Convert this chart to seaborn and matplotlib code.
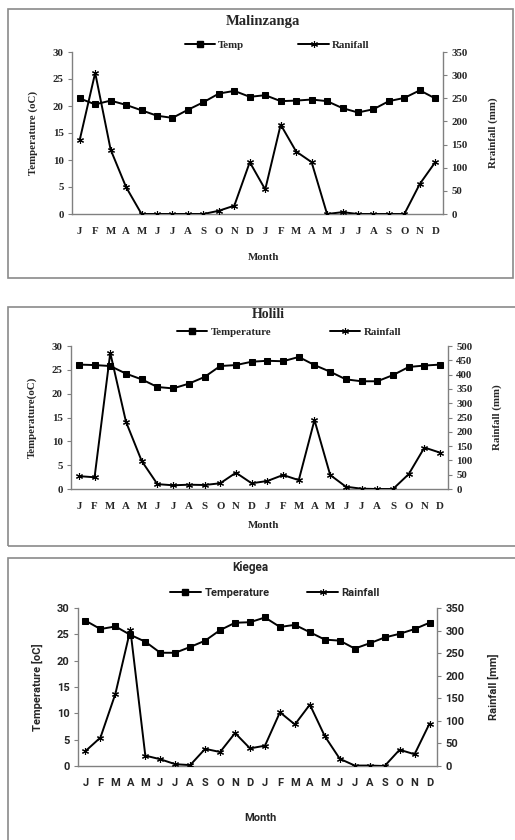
import numpy as np
import matplotlib
matplotlib.use("Agg")
import matplotlib.pyplot as plt
from matplotlib.lines import Line2D
from matplotlib.patches import Rectangle
from matplotlib.font_manager import FontProperties
import seaborn as sns

# two years of monthly values, Jan..Dec, Jan..Dec
MONTHS = list("JFMAMJJASOND") * 2

MAL_TEMP = [21.4, 20.3, 21.0, 20.2, 19.2, 18.2, 17.8, 19.3, 20.7, 22.3, 22.8, 21.7,
            22.0, 20.9, 21.0, 21.2, 20.9, 19.6, 18.8, 19.4, 20.9, 21.5, 22.9, 21.4]
MAL_RAIN = [160, 305, 139, 58, 0, 0, 0, 0, 0, 7, 18, 112,
            53, 193, 135, 112, 0, 4, 0, 0, 0, 0, 65, 112]

HOL_TEMP = [26.1, 26.0, 25.8, 24.2, 23.0, 21.4, 21.1, 22.1, 23.5, 25.8, 26.0, 26.7,
            26.9, 26.8, 27.7, 26.0, 24.6, 23.0, 22.6, 22.6, 23.9, 25.6, 25.9, 26.1]
HOL_RAIN = [45, 41, 476, 235, 98, 17, 13, 15, 14, 20, 57, 20,
            28, 49, 31, 241, 49, 8, 1, 0, 0, 52, 145, 127]

KIE_TEMP = [27.6, 26.0, 26.5, 24.9, 23.6, 21.5, 21.5, 22.6, 23.8, 25.8, 27.2, 27.3,
            28.2, 26.4, 26.8, 25.4, 24.0, 23.8, 22.3, 23.3, 24.4, 25.1, 26.0, 27.2]
KIE_RAIN = [33, 63, 160, 302, 23, 15, 4, 2, 38, 31, 73, 39,
            45, 119, 92, 136, 66, 16, 1, 1, 0, 36, 26, 94]

W, H = 515, 840


def fx(px):
    return px / W


def fy(py):
    return 1 - py / H


SERIF = ["Liberation Serif", "DejaVu Serif"]
SANS = ["Roboto", "DejaVu Sans"]

PANELS = [
    dict(title="Malinzanga", temp=MAL_TEMP, rain=MAL_RAIN,
         leg=("Temp", "Ranifall"), ylab="Temperature (oC)", rlab="Rrainfall (mm)",
         rmax=350, box=(8, 9, 513, 278), ax=(72, 52, 443, 214),
         title_xy=(263, 22), leg_xy=(277, 45), month_xy=(263, 257),
         ylab_x=33, rlab_x=493, family=SERIF, fs=7.8, tfs=10.5, colsp=5.0),
    dict(title="Holili", temp=HOL_TEMP, rain=HOL_RAIN,
         leg=("Temperature", "Rainfall"), ylab="Temperature(oC)", rlab="Rainfall (mm)",
         rmax=500, box=(8, 307, 525, 546), ax=(71, 346, 448, 489),
         title_xy=(268, 314), leg_xy=(289, 332), month_xy=(263, 525),
         ylab_x=32, rlab_x=497, family=SERIF, fs=7.8, tfs=10, colsp=5.4),
    dict(title="Kiegea", temp=KIE_TEMP, rain=KIE_RAIN,
         leg=("Temperature", "Rainfall"), ylab="Temperature [oC]", rlab="Rainfall [mm]",
         rmax=350, box=(8, 558, 525, 850), ax=(78, 608, 437, 766),
         title_xy=(250, 568), leg_xy=(275, 593), month_xy=(260, 818),
         ylab_x=37, rlab_x=493, family=SANS, fs=8, tfs=8.5, colsp=3.4),
]


def draw_panel(fig, p):
    fp = FontProperties(family=p["family"], weight="bold", size=p["fs"])
    fp_t = FontProperties(family=p["family"], weight="bold", size=p["tfs"])

    x0, y0, x1, y1 = p["box"]
    fig.patches.append(Rectangle((fx(x0), fy(y1)), fx(x1) - fx(x0), fy(y0) - fy(y1),
                                 transform=fig.transFigure, fill=False,
                                 edgecolor="#8a8a8a", linewidth=1.2))

    l, t, r, b = p["ax"]
    ax = fig.add_axes([fx(l), fy(b), fx(r) - fx(l), fy(t) - fy(b)])
    ax2 = ax.twinx()

    pos = np.arange(len(MONTHS))
    sns.lineplot(x=pos, y=p["temp"], ax=ax, color="black", marker="s",
                 markersize=5, linewidth=1.4, mec="black")
    sns.lineplot(x=pos, y=p["rain"], ax=ax2, color="black", marker=(6, 2, 0),
                 markersize=5, linewidth=1.4, mec="black", mew=0.8)

    ax.set_xlim(-0.5, len(MONTHS) - 0.5)
    ax.set_ylim(0, 30)
    ax.set_yticks(range(0, 31, 5))
    ax2.set_ylim(0, p["rmax"])
    ax2.set_yticks(range(0, p["rmax"] + 1, 50))
    ax.set_xticks(pos)
    ax.set_xticklabels(MONTHS)
    ax.set_xticks(np.arange(-0.5, len(MONTHS), 1), minor=True)
    ax.tick_params(axis="x", which="major", length=0, pad=9)
    ax.tick_params(axis="x", which="minor", length=3, color="#808080", direction="out")
    ax.tick_params(axis="y", length=3, color="#808080", pad=3)
    ax2.tick_params(axis="y", length=3, color="#808080", pad=3)

    for a in (ax, ax2):
        a.set_xlabel("")
        a.set_ylabel("")
        a.spines["top"].set_visible(False)
        for s in a.spines.values():
            s.set_color("#808080")
            s.set_linewidth(1.0)
    ax.spines["right"].set_visible(False)
    ax2.spines["left"].set_visible(False)
    ax2.spines["bottom"].set_visible(False)

    for lab in ax.get_xticklabels() + ax.get_yticklabels() + ax2.get_yticklabels():
        lab.set_fontproperties(fp)

    fig.text(fx(p["title_xy"][0]), fy(p["title_xy"][1]), p["title"],
             fontproperties=fp_t, ha="center", va="center")
    fig.text(fx(p["month_xy"][0]), fy(p["month_xy"][1]), "Month",
             fontproperties=fp, ha="center", va="center")
    mid = fy((t + b) / 2)
    fig.text(fx(p["ylab_x"]), mid, p["ylab"], fontproperties=fp,
             rotation=90, ha="center", va="center")
    fig.text(fx(p["rlab_x"]), mid, p["rlab"], fontproperties=fp,
             rotation=90, ha="center", va="center")

    handles = [
        Line2D([], [], color="black", marker="s", markersize=5, linewidth=1.4),
        Line2D([], [], color="black", marker=(6, 2, 0), markersize=5,
               linewidth=1.4, mew=0.8),
    ]
    fig.legend(handles, p["leg"], loc="center",
               bbox_to_anchor=(fx(p["leg_xy"][0]), fy(p["leg_xy"][1])),
               ncol=2, frameon=False, prop=fp, handlelength=2.8,
               handletextpad=0.3, columnspacing=p["colsp"], borderpad=0)


def main():
    sns.set_style("white")
    plt.rcParams["font.family"] = ["DejaVu Sans"]
    fig = plt.figure(figsize=(W / 100, H / 100), dpi=100)
    for p in PANELS:
        draw_panel(fig, p)
    fig.savefig("out.png", dpi=100)


if __name__ == "__main__":
    main()
